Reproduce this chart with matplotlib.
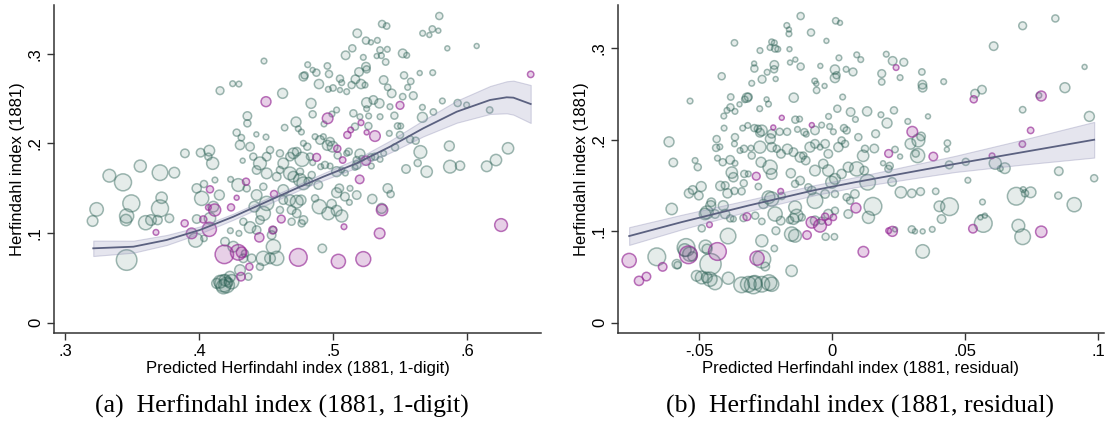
import numpy as np
import matplotlib
matplotlib.use("Agg")
import matplotlib.pyplot as plt

plt.rcParams['font.family'] = ['Liberation Sans', 'DejaVu Sans']

# ---- panel (a): predicted HHI (1-digit) vs HHI 1881, (x, y, weight) ----
a_grey = [
    (0.4485, 0.2921, 8), (0.4157, 0.2590, 11), (0.4251, 0.2668, 8), (0.4298, 0.2664, 8), (0.4624, 0.2560, 14),
    (0.4361, 0.2307, 12), (0.4361, 0.2225, 10), (0.4639, 0.2177, 9), (0.4281, 0.2121, 10), (0.4316, 0.2065, 9),
    (0.4306, 0.1983, 13), (0.4381, 0.1964, 12), (0.4428, 0.2102, 7), (0.4500, 0.2072, 8), (0.3895, 0.1890, 12),
    (0.4012, 0.1897, 12), (0.4077, 0.1920, 15), (0.4102, 0.1778, 17), (0.4070, 0.1853, 10), (0.4326, 0.1808, 7),
    (0.3331, 0.1640, 18), (0.3433, 0.1566, 24), (0.3562, 0.1748, 17), (0.3709, 0.1674, 22), (0.3816, 0.1674, 15),
    (0.3236, 0.1264, 19), (0.3206, 0.1134, 15), (0.3495, 0.1331, 24), (0.3460, 0.1190, 20), (0.3455, 0.1145, 16),
    (0.3602, 0.1115, 20), (0.3642, 0.1145, 15), (0.3721, 0.1394, 16), (0.3709, 0.1275, 24), (0.3691, 0.1145, 13),
    (0.3779, 0.1164, 12), (0.3460, 0.0698, 29), (0.3975, 0.0921, 20), (0.4037, 0.0940, 9), (0.3983, 0.1499, 13),
    (0.4037, 0.1547, 10), (0.4020, 0.1387, 20), (0.4152, 0.1424, 14), (0.4119, 0.1592, 8), (0.4107, 0.1294, 15),
    (0.4082, 0.1164, 16), (0.3983, 0.1156, 12), (0.4236, 0.1599, 8), (0.4293, 0.1536, 18), (0.4356, 0.1499, 10),
    (0.4331, 0.1126, 10), (0.4234, 0.1026, 8), (0.4298, 0.0996, 8), (0.4381, 0.1063, 16), (0.4455, 0.1145, 12),
    (0.4480, 0.1219, 20), (0.4413, 0.1294, 15), (0.4505, 0.1331, 20), (0.4430, 0.1424, 15), (0.4480, 0.1517, 10),
    (0.4256, 0.0847, 15), (0.4194, 0.0903, 12), (0.4331, 0.0717, 12), (0.4480, 0.0717, 20), (0.4393, 0.0717, 12),
    (0.4455, 0.0623, 10), (0.4306, 0.0586, 15), (0.4368, 0.0512, 10), (0.4343, 0.0772, 10),
    (0.4182, 0.0437, 24), (0.4206, 0.0419, 22), (0.4244, 0.0456, 20), (0.4157, 0.0456, 18), (0.4231, 0.0512, 15),
    (0.4182, 0.0400, 20), (0.4132, 0.0437, 14), (0.4219, 0.0445, 12), (0.4194, 0.0474, 16),
    (0.4555, 0.0847, 20), (0.4530, 0.0717, 15), (0.4580, 0.0717, 20), (0.4542, 0.0977, 12), (0.4555, 0.1033, 10),
    (0.4430, 0.1033, 12), (0.4604, 0.1257, 10), (0.4629, 0.1368, 12), (0.4629, 0.1480, 15), (0.4455, 0.1778, 18),
    (0.4505, 0.1853, 12), (0.4530, 0.1927, 10), (0.4604, 0.1890, 10), (0.4629, 0.1778, 15), (0.4405, 0.1853, 10),
    (0.4430, 0.1704, 12), (0.4505, 0.1666, 15), (0.4580, 0.1629, 12), (0.4604, 0.1704, 10),
    (0.5793, 0.3424, 10), (0.5669, 0.3231, 8), (0.5719, 0.3212, 7), (0.5741, 0.3279, 9), (0.5786, 0.3260, 7),
    (0.5366, 0.3335, 10), (0.5400, 0.3312, 9), (0.5181, 0.3231, 12), (0.5246, 0.3149, 10), (0.5283, 0.3130, 7),
    (0.5331, 0.3152, 8), (0.5144, 0.3063, 10), (0.5351, 0.3044, 9), (0.5405, 0.3052, 8), (0.5094, 0.2985, 12),
    (0.5226, 0.2962, 8), (0.5326, 0.2977, 7), (0.5361, 0.2981, 8), (0.5520, 0.3007, 12), (0.5550, 0.2985, 8),
    (0.5853, 0.3063, 7), (0.6072, 0.3089, 7), (0.5393, 0.2910, 9), (0.4811, 0.2880, 8), (0.4848, 0.2821, 7),
    (0.4876, 0.2791, 10), (0.4958, 0.2866, 9), (0.4970, 0.2776, 10), (0.4779, 0.2746, 12), (0.4788, 0.2761, 10),
    (0.5246, 0.2858, 12), (0.5251, 0.2828, 10), (0.5194, 0.2799, 12), (0.5167, 0.2717, 12), (0.5052, 0.2724, 10),
    (0.5065, 0.2679, 8), (0.5530, 0.2761, 10), (0.5647, 0.2787, 7), (0.5744, 0.2791, 8), (0.5580, 0.2694, 9),
    (0.5557, 0.2627, 8), (0.5378, 0.2709, 12), (0.5408, 0.2627, 9), (0.5438, 0.2560, 12), (0.4895, 0.2664, 13),
    (0.4965, 0.2605, 8), (0.5000, 0.2620, 9), (0.5052, 0.2597, 7), (0.5102, 0.2579, 8), (0.5139, 0.2653, 10),
    (0.5209, 0.2664, 13), (0.5239, 0.2653, 8), (0.4836, 0.2448, 14), (0.4848, 0.2326, 10), (0.5027, 0.2374, 8),
    (0.4992, 0.2329, 8), (0.5152, 0.2337, 10), (0.5251, 0.2456, 14), (0.5301, 0.2486, 12), (0.5346, 0.2448, 13),
    (0.5425, 0.2411, 8), (0.5251, 0.2389, 8), (0.5201, 0.2299, 8), (0.5266, 0.2307, 8), (0.5351, 0.2299, 8),
    (0.5458, 0.2311, 10), (0.5520, 0.2523, 9), (0.5599, 0.2534, 11), (0.5667, 0.2404, 8), (0.5749, 0.2352, 9),
    (0.5816, 0.2475, 8), (0.5930, 0.2452, 10), (0.5997, 0.2430, 8), (0.6169, 0.2374, 9),
    (0.4724, 0.2240, 14), (0.4741, 0.2165, 8), (0.4764, 0.2128, 8), (0.4933, 0.2218, 8), (0.5164, 0.2188, 10),
    (0.5264, 0.2195, 10), (0.5482, 0.2195, 9), (0.5505, 0.2195, 8), (0.5667, 0.2292, 14), (0.5420, 0.2113, 8),
    (0.5500, 0.2095, 10), (0.5575, 0.2046, 10), (0.5617, 0.2031, 10), (0.4866, 0.2076, 8), (0.4903, 0.2039, 12),
    (0.4928, 0.2076, 8), (0.4978, 0.2020, 12), (0.4997, 0.1964, 15), (0.4958, 0.1979, 14), (0.4779, 0.2002, 8),
    (0.4808, 0.1964, 10), (0.4729, 0.1908, 12), (0.4704, 0.1890, 15), (0.4679, 0.1853, 12), (0.4769, 0.1823, 20),
    (0.4828, 0.1853, 10), (0.4848, 0.1786, 8), (0.5035, 0.1867, 10), (0.5102, 0.1890, 8), (0.5117, 0.1908, 10),
    (0.5177, 0.1815, 10), (0.5201, 0.1882, 14), (0.5214, 0.1834, 8), (0.5283, 0.1845, 10), (0.5313, 0.1853, 10),
    (0.5351, 0.1823, 8), (0.5378, 0.1890, 8), (0.5463, 0.1957, 10), (0.5652, 0.1905, 18), (0.5868, 0.1972, 14),
    (0.6306, 0.1946, 16), (0.4908, 0.1741, 8), (0.4940, 0.1760, 10), (0.4978, 0.1748, 8), (0.5027, 0.1685, 14),
    (0.5065, 0.1704, 8), (0.5092, 0.1670, 8), (0.5164, 0.1733, 8), (0.5177, 0.1760, 12), (0.5286, 0.1748, 8),
    (0.5632, 0.1782, 10), (0.5545, 0.1715, 12), (0.5699, 0.1685, 16), (0.5873, 0.1741, 18), (0.5948, 0.1752, 13),
    (0.6147, 0.1745, 15), (0.6216, 0.1815, 16), (0.4679, 0.1666, 18), (0.4704, 0.1629, 15), (0.4754, 0.1592, 18),
    (0.4779, 0.1555, 18), (0.4816, 0.1573, 12), (0.4841, 0.1648, 10), (0.4890, 0.1536, 12), (0.4754, 0.1685, 10),
    (0.5047, 0.1499, 12), (0.5127, 0.1499, 8), (0.5027, 0.1450, 14), (0.5089, 0.1406, 12), (0.5122, 0.1342, 8),
    (0.5177, 0.1424, 12), (0.5293, 0.1380, 13), (0.5408, 0.1499, 13), (0.5430, 0.1435, 10), (0.4679, 0.1368, 15),
    (0.4729, 0.1350, 18), (0.4761, 0.1368, 14), (0.4866, 0.1387, 10), (0.4898, 0.1294, 20), (0.4965, 0.1219, 18),
    (0.4990, 0.1324, 13), (0.5065, 0.1190, 17), (0.5027, 0.1249, 15), (0.4691, 0.1257, 12), (0.4729, 0.1219, 12),
    (0.4779, 0.1145, 12), (0.4766, 0.1108, 10), (0.4691, 0.1126, 10), (0.5363, 0.1275, 14), (0.4920, 0.0828, 12),
]
a_purple = [
    (0.4500, 0.2467, 14), (0.3679, 0.1007, 8), (0.3893, 0.1108, 10), (0.3945, 0.0996, 15), (0.4082, 0.1488, 10),
    (0.4117, 0.1257, 17), (0.4070, 0.1286, 8), (0.4077, 0.1041, 20), (0.4032, 0.1152, 10), (0.4239, 0.1286, 10),
    (0.4281, 0.1394, 7), (0.4351, 0.1573, 10), (0.4189, 0.0761, 26), (0.4293, 0.0784, 22), (0.4318, 0.0784, 15),
    (0.4376, 0.0623, 10), (0.4313, 0.0512, 12), (0.4550, 0.1033, 11), (0.4450, 0.0951, 13), (0.4614, 0.1156, 11),
    (0.4560, 0.1435, 10), (0.5500, 0.2426, 11), (0.4960, 0.2281, 15), (0.5209, 0.2232, 8), (0.5132, 0.2151, 8),
    (0.5251, 0.2124, 7), (0.5107, 0.2095, 10), (0.5313, 0.2083, 15), (0.5032, 0.1942, 10), (0.4878, 0.1845, 11),
    (0.5072, 0.1815, 9), (0.5246, 0.1808, 13), (0.5199, 0.1599, 12), (0.5366, 0.1257, 16), (0.5082, 0.1070, 8),
    (0.5348, 0.0996, 15), (0.6254, 0.1089, 18), (0.4741, 0.0728, 25), (0.5040, 0.0683, 20), (0.5226, 0.0709, 21),
    (0.6475, 0.2772, 9),
]
a_fit_x = [0.3211, 0.3510, 0.3759, 0.4007, 0.4256, 0.4505, 0.4754, 0.4928,
           0.5177, 0.5425, 0.5674, 0.5923, 0.6172, 0.6296, 0.6346, 0.6475]
a_fit_y = [0.0829, 0.0847, 0.0922, 0.1034, 0.1182, 0.1350, 0.1517, 0.1629,
           0.1779, 0.1964, 0.2170, 0.2355, 0.2486, 0.2516, 0.2512, 0.2441]
a_fit_hw = [0.0086, 0.0067, 0.0056, 0.0039, 0.0034, 0.0034, 0.0034, 0.0039,
            0.0050, 0.0067, 0.0090, 0.0123, 0.0156, 0.0179, 0.0190, 0.0212]

# ---- panel (b): predicted HHI (residual) vs HHI 1881 ----
b_grey = [
    (-0.0118, 0.3352, 10), (0.0014, 0.3300, 9), (0.0030, 0.3278, 7), (-0.0170, 0.3249, 8), (-0.0162, 0.3205, 7),
    (-0.0162, 0.3158, 8), (-0.0079, 0.3172, 10), (-0.0367, 0.3059, 9), (-0.0021, 0.3081, 7), (-0.0227, 0.3070, 8),
    (-0.0217, 0.3059, 8), (-0.0233, 0.3008, 8), (-0.0214, 0.2997, 10), (-0.0204, 0.2990, 8), (-0.0271, 0.2975, 8),
    (-0.0160, 0.2990, 7), (0.0093, 0.2928, 8), (0.0108, 0.2876, 8), (0.0026, 0.2895, 8), (-0.0293, 0.2833, 7),
    (-0.0217, 0.2818, 12), (-0.0292, 0.2778, 10), (-0.0118, 0.2800, 10), (-0.0158, 0.2844, 7), (-0.0138, 0.2876, 7),
    (-0.0218, 0.2770, 10), (-0.0244, 0.2738, 8), (-0.0263, 0.2661, 11), (-0.0212, 0.2664, 7), (-0.0415, 0.2694, 10),
    (0.0011, 0.2767, 13), (0.0017, 0.2705, 10), (0.0011, 0.2675, 13), (0.0053, 0.2770, 8), (0.0079, 0.2741, 11),
    (-0.0044, 0.2807, 7), (-0.0065, 0.2642, 8), (-0.0059, 0.2613, 7), (-0.0058, 0.2540, 9), (-0.0028, 0.2588, 7),
    (-0.0302, 0.2617, 8), (-0.0534, 0.2423, 8), (-0.0381, 0.2467, 9), (-0.0320, 0.2460, 13), (-0.0315, 0.2467, 11),
    (-0.0328, 0.2441, 9), (-0.0246, 0.2441, 7), (-0.0239, 0.2390, 8), (-0.0272, 0.2339, 8), (-0.0348, 0.2387, 7),
    (-0.0382, 0.2354, 10), (-0.0395, 0.2321, 8), (-0.0407, 0.2259, 8), (-0.0365, 0.2310, 8), (-0.0144, 0.2460, 13),
    (0.0040, 0.2467, 8), (0.0020, 0.2339, 10), (0.0070, 0.2303, 12), (0.0088, 0.2222, 8), (-0.0013, 0.2255, 8),
    (-0.0138, 0.2219, 10), (-0.0122, 0.2226, 8), (-0.0406, 0.2127, 8), (-0.0336, 0.2127, 8), (-0.0317, 0.2156, 8),
    (-0.0292, 0.2127, 10), (-0.0279, 0.2120, 10), (-0.0271, 0.2076, 12), (-0.0264, 0.2102, 15), (-0.0227, 0.2065, 12),
    (-0.0197, 0.2087, 10), (-0.0169, 0.2087, 10), (-0.0130, 0.2113, 8), (-0.0104, 0.2083, 10), (-0.0097, 0.2061, 8),
    (-0.0064, 0.2102, 12), (-0.0039, 0.2160, 8), (-0.0009, 0.2145, 8), (0.0005, 0.2087, 8), (0.0045, 0.2127, 10),
    (0.0055, 0.2102, 10), (0.0099, 0.2028, 10), (-0.0613, 0.1977, 14), (-0.0434, 0.2007, 10), (-0.0436, 0.1911, 10),
    (-0.0422, 0.1922, 8), (-0.0365, 0.2028, 10), (-0.0367, 0.1955, 8), (-0.0346, 0.1882, 8), (-0.0331, 0.1901, 10),
    (-0.0305, 0.1908, 8), (-0.0302, 0.1827, 10), (-0.0271, 0.1919, 17), (-0.0232, 0.2010, 14), (-0.0227, 0.1919, 13),
    (-0.0208, 0.1901, 10), (-0.0192, 0.1846, 12), (-0.0168, 0.1897, 14), (-0.0145, 0.1864, 12), (-0.0120, 0.1809, 14),
    (-0.0108, 0.1827, 10), (-0.0083, 0.1919, 14), (-0.0064, 0.1955, 12), (-0.0045, 0.1919, 8), (-0.0026, 0.1955, 12),
    (-0.0014, 0.1846, 12), (0.0024, 0.1919, 13), (0.0036, 0.1992, 10), (0.0049, 0.1955, 10), (-0.0597, 0.1751, 12),
    (-0.0515, 0.1773, 8), (-0.0505, 0.1700, 10), (-0.0431, 0.1798, 8), (-0.0411, 0.1754, 10), (-0.0383, 0.1780, 12),
    (-0.0365, 0.1743, 8), (-0.0377, 0.1641, 16), (-0.0371, 0.1590, 13), (-0.0330, 0.1626, 10), (-0.0315, 0.1626, 8),
    (-0.0267, 0.1754, 14), (-0.0233, 0.1700, 20), (-0.0227, 0.1626, 15), (-0.0155, 0.1634, 13), (-0.0099, 0.1773, 12),
    (-0.0064, 0.1663, 15), (-0.0033, 0.1736, 13), (-0.0014, 0.1663, 16), (0.0011, 0.1572, 15), (0.0036, 0.1626, 13),
    (0.0061, 0.1700, 14), (0.0093, 0.1681, 20), (0.0121, 0.1663, 12), (-0.0538, 0.1414, 13), (-0.0524, 0.1451, 12),
    (-0.0501, 0.1389, 12), (-0.0492, 0.1488, 14), (-0.0420, 0.1495, 13), (-0.0402, 0.1499, 11), (-0.0393, 0.1414, 13),
    (-0.0367, 0.1440, 10), (-0.0340, 0.1436, 10), (-0.0332, 0.1524, 10), (-0.0277, 0.1488, 9), (-0.0239, 0.1371, 18),
    (-0.0227, 0.1352, 20), (-0.0258, 0.1298, 13), (-0.0189, 0.1385, 10), (-0.0139, 0.1517, 10), (-0.0120, 0.1553, 12),
    (-0.0089, 0.1480, 10), (-0.0076, 0.1444, 12), (-0.0064, 0.1334, 22), (-0.0001, 0.1535, 17), (-0.0026, 0.1407, 12),
    (0.0011, 0.1407, 10), (0.0055, 0.1371, 10), (0.0068, 0.1334, 10), (0.0086, 0.1407, 12), (-0.0603, 0.1243, 16),
    (-0.0454, 0.1316, 12), (-0.0456, 0.1279, 14), (-0.0471, 0.1206, 18), (-0.0478, 0.1188, 16), (-0.0440, 0.1188, 12),
    (-0.0409, 0.1279, 14), (-0.0402, 0.1188, 13), (-0.0383, 0.1140, 10), (-0.0371, 0.1133, 8), (-0.0333, 0.1144, 10),
    (-0.0289, 0.1170, 10), (-0.0264, 0.1107, 9), (-0.0214, 0.1188, 20), (-0.0193, 0.1115, 12), (-0.0139, 0.1261, 18),
    (-0.0133, 0.1170, 18), (-0.0145, 0.1133, 15), (-0.0158, 0.1122, 10), (-0.0114, 0.1151, 10), (-0.0064, 0.1115, 13),
    (-0.0039, 0.1115, 10), (-0.0014, 0.1188, 13), (0.0011, 0.1224, 10), (0.0061, 0.1188, 12), (-0.0490, 0.1031, 10),
    (-0.0211, 0.1005, 11), (-0.0152, 0.0969, 20), (-0.0139, 0.0950, 18), (-0.0024, 0.0939, 10), (0.0009, 0.0939, 9),
    (-0.0391, 0.0947, 22), (-0.0264, 0.0895, 17), (-0.0217, 0.0811, 9), (-0.0549, 0.0822, 25), (-0.0535, 0.0749, 20),
    (-0.0554, 0.0793, 18), (-0.0525, 0.0724, 13), (-0.0476, 0.0833, 18), (-0.0470, 0.0804, 14), (-0.0584, 0.0640, 13),
    (-0.0581, 0.0629, 10), (-0.0659, 0.0720, 25), (-0.0264, 0.0694, 25), (-0.0457, 0.0640, 30), (-0.0509, 0.0512, 15),
    (-0.0490, 0.0494, 18), (-0.0471, 0.0494, 15), (-0.0459, 0.0475, 20), (-0.0440, 0.0438, 20), (-0.0390, 0.0486, 17),
    (-0.0251, 0.0614, 12), (-0.0152, 0.0567, 16), (-0.0340, 0.0413, 22), (-0.0315, 0.0420, 22), (-0.0296, 0.0413, 25),
    (-0.0290, 0.0438, 20), (-0.0264, 0.0420, 22), (-0.0237, 0.0438, 22), (-0.0227, 0.0420, 20),
    (0.0840, 0.3326, 10), (0.0717, 0.3246, 11), (0.0608, 0.3023, 12), (0.0950, 0.2796, 7), (0.0204, 0.2935, 8),
    (0.0228, 0.2862, 12), (0.0270, 0.2847, 11), (0.0187, 0.2723, 11), (0.0187, 0.2632, 9), (0.0256, 0.2679, 8),
    (0.0338, 0.2741, 9), (0.0340, 0.2602, 12), (0.0341, 0.2569, 12), (0.0420, 0.2635, 8), (0.0538, 0.2504, 12),
    (0.0564, 0.2547, 12), (0.0876, 0.2569, 14), (0.0778, 0.2485, 8), (0.0132, 0.2310, 13), (0.0184, 0.2273, 8),
    (0.0233, 0.2321, 10), (0.0207, 0.2182, 14), (0.0285, 0.2200, 8), (0.0361, 0.2255, 7), (0.0717, 0.2328, 9),
    (0.0968, 0.2255, 14), (0.0335, 0.2036, 12), (0.0325, 0.1992, 18), (0.0295, 0.1955, 15), (0.0315, 0.1849, 10),
    (0.0322, 0.1827, 20), (0.0164, 0.2065, 11), (0.0124, 0.1901, 10), (0.0117, 0.1824, 16), (0.0159, 0.1904, 12),
    (0.0237, 0.1893, 9), (0.0256, 0.1816, 7), (0.0434, 0.1963, 9), (0.0432, 0.1893, 7), (0.0192, 0.1743, 7),
    (0.0212, 0.1681, 10), (0.0217, 0.1714, 10), (0.0134, 0.1535, 22), (0.0226, 0.1539, 12), (0.0441, 0.1725, 11),
    (0.0503, 0.1758, 10), (0.0614, 0.1743, 17), (0.0650, 0.1689, 15), (0.0633, 0.1685, 8), (0.0853, 0.1656, 12),
    (0.0986, 0.1579, 10), (0.0511, 0.1557, 8), (0.0259, 0.1425, 16), (0.0300, 0.1414, 12), (0.0333, 0.1433, 11),
    (0.0390, 0.1436, 9), (0.0693, 0.1382, 25), (0.0719, 0.1455, 8), (0.0726, 0.1414, 10), (0.0747, 0.1425, 15),
    (0.0851, 0.1389, 10), (0.0911, 0.1290, 20), (0.0154, 0.1272, 25), (0.0137, 0.1151, 17), (0.0404, 0.1272, 15),
    (0.0442, 0.1268, 25), (0.0412, 0.1133, 12), (0.0566, 0.1319, 8), (0.0558, 0.1151, 7), (0.0575, 0.1170, 7),
    (0.0569, 0.1085, 25), (0.0701, 0.1060, 18), (0.0717, 0.0939, 22), (0.0300, 0.1020, 10), (0.0312, 0.0998, 7),
    (0.0341, 0.0998, 7), (0.0377, 0.1020, 8), (0.0237, 0.1020, 7), (0.0341, 0.0779, 19),
]
b_purple = [
    (-0.0189, 0.2240, 7), (-0.0221, 0.2134, 7), (-0.0076, 0.2160, 7), (-0.0285, 0.1601, 11), (-0.0193, 0.1436, 8),
    (-0.0461, 0.1071, 8), (-0.0320, 0.1159, 11), (-0.0076, 0.1096, 16), (-0.0045, 0.1060, 18), (-0.0026, 0.1159, 10),
    (0.0005, 0.1151, 9), (-0.0014, 0.1100, 9), (0.0090, 0.1254, 14), (-0.0094, 0.0958, 12), (-0.0763, 0.0680, 20),
    (-0.0540, 0.0742, 25), (-0.0431, 0.0778, 25), (-0.0282, 0.0705, 20), (-0.0637, 0.0610, 12), (-0.0698, 0.0504, 12),
    (-0.0726, 0.0457, 13), (0.0118, 0.0775, 15), (0.0241, 0.2789, 8), (0.0533, 0.2442, 10), (0.0787, 0.2478, 14),
    (0.0302, 0.2087, 15), (0.0213, 0.1849, 11), (0.0381, 0.1816, 12), (0.0747, 0.2102, 9), (0.0716, 0.1952, 9),
    (0.0602, 0.1824, 8), (0.0787, 0.0994, 16), (0.0530, 0.1027, 12), (0.0227, 0.0998, 14), (0.0213, 0.1005, 8),
]
b_fit_x = [-0.0763, -0.0565, -0.0315, -0.0064, 0.0086, 0.0462, 0.0713, 0.0986]
b_fit_y = [0.0947, 0.1100, 0.1280, 0.1450, 0.1535, 0.1735, 0.1862, 0.2000]
b_fit_hw = [0.0097, 0.0080, 0.0062, 0.0055, 0.0055, 0.0088, 0.0135, 0.0195]

GREY = (0.18, 0.39, 0.34)
PURP = (0.59, 0.16, 0.59)
W = 1108 / 100
H = 445 / 100


def bubbles(ax, pts, col, fa, ea):
    x, y, w = zip(*pts)
    s = 0.26 * np.asarray(w, dtype=float) ** 2
    ax.scatter(x, y, s=s, facecolors=[col + (fa,)], edgecolors=[col + (ea,)],
               linewidths=1.1, zorder=2)


def fit_band(ax, fx, fy, hw):
    fx = np.asarray(fx)
    fy = np.asarray(fy)
    hw = np.asarray(hw)
    ax.fill_between(fx, fy - hw, fy + hw, facecolor=(0.55, 0.55, 0.70, 0.22),
                    edgecolor=(0.55, 0.55, 0.70, 0.35), linewidth=0.8, zorder=3)
    ax.plot(fx, fy, color='#5b6180', lw=1.3, zorder=4)


def style(ax, xticks, xlabels, xlabel):
    for side in ['top', 'right']:
        ax.spines[side].set_visible(False)
    for side in ['left', 'bottom']:
        ax.spines[side].set_color('#333333')
        ax.spines[side].set_linewidth(1.1)
    ax.set_yticks([0, 0.1, 0.2, 0.3])
    ax.set_yticklabels(['0', '.1', '.2', '.3'], rotation=90, va='center')
    ax.set_xticks(xticks)
    ax.set_xticklabels(xlabels)
    ax.tick_params(direction='out', length=5, width=1.0, color='#333333',
                   labelsize=12, pad=3)
    ax.set_xlabel(xlabel, fontsize=12, labelpad=1)
    ax.set_ylabel('Herfindahl index (1881)', fontsize=12, labelpad=2)


fig = plt.figure(figsize=(W, H), dpi=100)

ax1 = fig.add_axes([54 / 1108, 112 / 445, 487 / 1108, 328 / 445])
bubbles(ax1, a_grey, GREY, 0.12, 0.45)
bubbles(ax1, a_purple, PURP, 0.22, 0.65)
fit_band(ax1, a_fit_x, a_fit_y, a_fit_hw)
ax1.set_xlim(0.2918, 0.6552)
ax1.set_ylim(-0.0117, 0.3547)
style(ax1, [0.3, 0.4, 0.5, 0.6], ['.3', '.4', '.5', '.6'],
      'Predicted Herfindahl index (1881, 1-digit)')

ax2 = fig.add_axes([618 / 1108, 112 / 445, 486 / 1108, 328 / 445])
bubbles(ax2, b_grey, GREY, 0.12, 0.45)
bubbles(ax2, b_purple, PURP, 0.22, 0.65)
fit_band(ax2, b_fit_x, b_fit_y, b_fit_hw)
ax2.set_xlim(-0.0805, 0.1023)
ax2.set_ylim(-0.0113, 0.3473)
style(ax2, [-0.05, 0, 0.05, 0.1], ['-.05', '0', '.05', '.1'],
      'Predicted Herfindahl index (1881, residual)')

fig.text(282 / 1108, 1 - 406 / 445, '(a)  Herfindahl index (1881, 1-digit)',
         ha='center', va='center', fontsize=18.5, family=['Liberation Serif', 'DejaVu Serif'])
fig.text(860 / 1108, 1 - 406 / 445, '(b)  Herfindahl index (1881, residual)',
         ha='center', va='center', fontsize=18.5, family=['Liberation Serif', 'DejaVu Serif'])

fig.savefig('out.png', dpi=100)
